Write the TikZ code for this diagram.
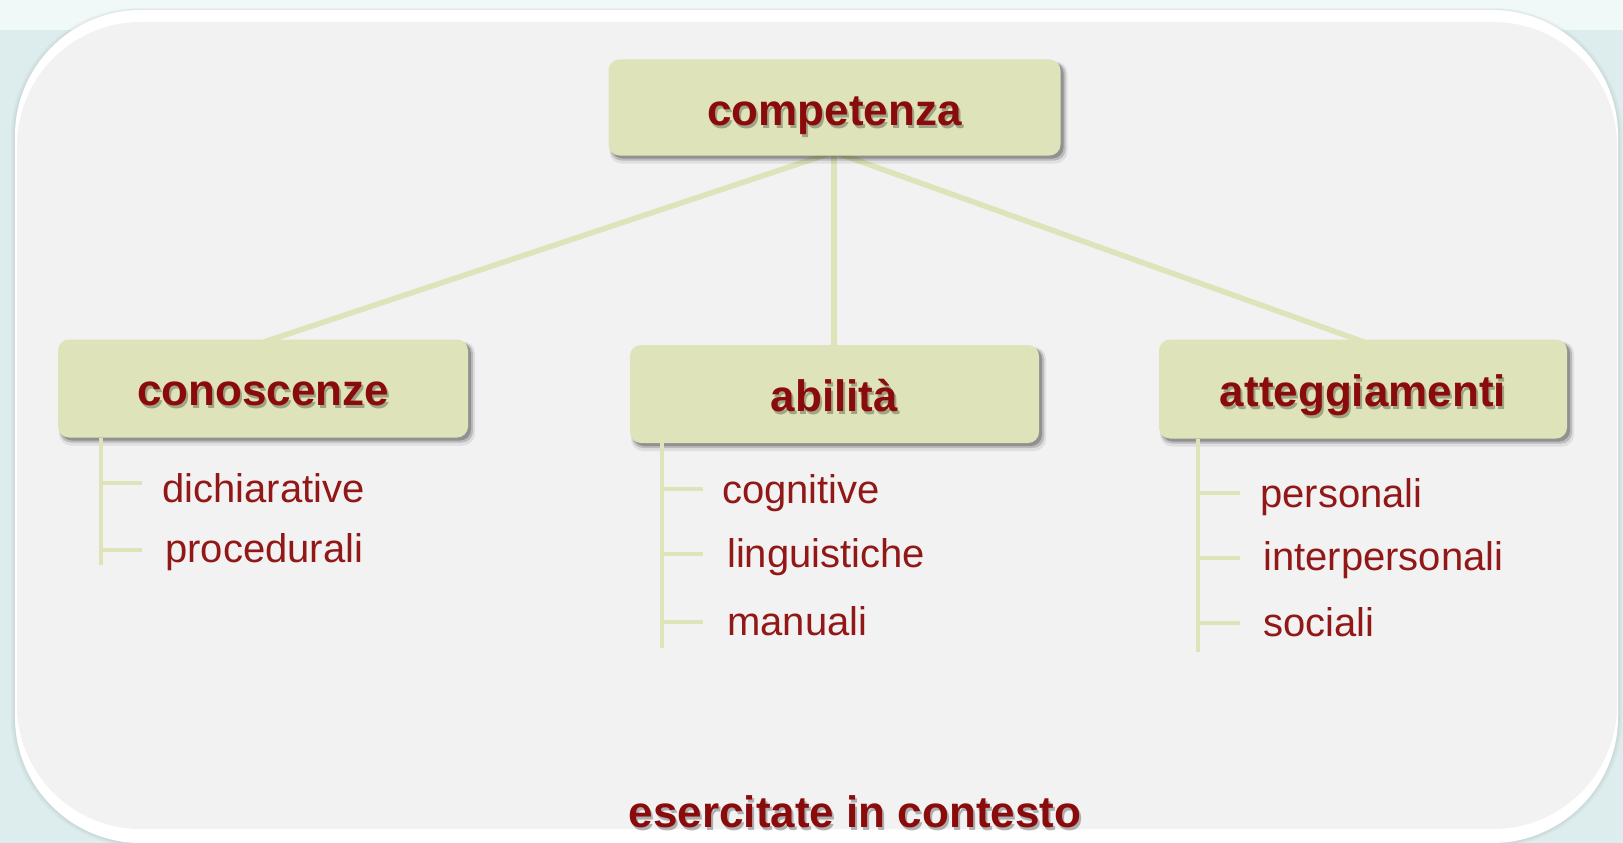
\documentclass[tikz,border=0pt]{standalone}
\usepackage{fontspec}
\setmainfont{Liberation Sans}
\definecolor{bgc}{HTML}{DDEDEE}
\definecolor{panelc}{HTML}{F2F2F2}
\definecolor{boxc}{HTML}{DFE3B9}
\definecolor{linec}{HTML}{DFE3BA}
\definecolor{txtc}{HTML}{8A0B0B}
\definecolor{subtxt}{HTML}{921818}
\newcommand\mybox[7]{%
  \fill[black,opacity=0.08,rounded corners=12pt] (#2-#4/2+1,#3-#5/2+2) rectangle (#2+#4/2+7,#3+#5/2+8);
  \fill[black,opacity=0.16,rounded corners=11pt] (#2-#4/2+2,#3-#5/2+3) rectangle (#2+#4/2+5,#3+#5/2+5);
  \fill[black,opacity=0.22,rounded corners=11pt] (#2-#4/2+3,#3-#5/2+3) rectangle (#2+#4/2+3,#3+#5/2+3);
  \node[box,minimum width=#4pt,minimum height=#5pt] (#1) at (#2,#3) {};
  \node[head,text=black,opacity=0.28] (#1s) at (#2+2,#7+3) {#6};
  \node[head] (#1t) at (#2,#7) {#6};
}
\begin{document}
\begin{tikzpicture}[x=1pt,y=-1pt,
  box/.style={fill=boxc, rounded corners=11pt, inner sep=0pt, draw=none},
  head/.style={font=\fontsize{44}{50}\selectfont\bfseries, text=txtc, inner sep=0pt},
  item/.style={font=\fontsize{40}{46}\selectfont, text=subtxt, anchor=base west, inner sep=0pt},
  conn/.style={draw=linec, line width=5.5pt},
  tree/.style={draw=linec, line width=3.5pt},
  tick/.style={draw=linec, line width=3.5pt}]
\useasboundingbox (0,0) rectangle (1623,843);
% background
\fill[bgc] (0,0) rectangle (1623,843);
\fill[white!60!bgc] (0,0) rectangle (1623,30);
% panel shadow and panel
\fill[black,opacity=0.035,rounded corners=128pt] (11,8) rectangle (1622,846);
\fill[black,opacity=0.035,rounded corners=128pt] (13,9) rectangle (1620,845);
\fill[white,rounded corners=126pt] (15,10) rectangle (1618,843);
\fill[panelc,rounded corners=124pt] (17,22) rectangle (1617,829);
% connectors (drawn first, nodes above)
\coordinate (hub) at (834,152);
\coordinate (conTop) at (264,342);
\coordinate (abiTop) at (834,347);
\coordinate (attTop) at (1364,342);
\draw[conn] (hub) -- (conTop);
\draw[conn] (hub) -- (abiTop);
\draw[conn] (hub) -- (attTop);
% boxes
\mybox{comp}{834.5}{107.5}{452}{96}{competenza}{116}
\mybox{con}{263}{388.5}{410}{98}{conoscenze}{393.5}
\mybox{abi}{834.5}{394}{409}{98}{abilità}{396}
\mybox{att}{1363}{389}{408}{99}{atteggiamenti}{395.5}
% conoscenze list
\coordinate (c0) at (101,438);
\coordinate (c9) at (101,565);
\coordinate (c1) at (101,483);
\coordinate (c2) at (101,550);
\coordinate (c1e) at (142,483);
\coordinate (c2e) at (142,550);
\draw[tree] (c0) -- (c9);
\draw[tick] (c1) -- (c1e);
\draw[tick] (c2) -- (c2e);
\node[item] (dich) at (162,502) {dichiarative};
\node[item] (proc) at (165,562) {procedurali};
% abilita list
\coordinate (a0) at (662,443);
\coordinate (a9) at (662,648);
\coordinate (a1) at (662,489);
\coordinate (a2) at (662,554);
\coordinate (a3) at (662,622);
\coordinate (a1e) at (703,489);
\coordinate (a2e) at (703,554);
\coordinate (a3e) at (703,622);
\draw[tree] (a0) -- (a9);
\draw[tick] (a1) -- (a1e);
\draw[tick] (a2) -- (a2e);
\draw[tick] (a3) -- (a3e);
\node[item] (cogn) at (722,503) {cognitive};
\node[item] (ling) at (727,567) {linguistiche};
\node[item] (manu) at (727,635) {manuali};
% atteggiamenti list
\coordinate (t0) at (1198,439);
\coordinate (t9) at (1198,652);
\coordinate (t1) at (1198,493);
\coordinate (t2) at (1198,558);
\coordinate (t3) at (1198,623);
\coordinate (t1e) at (1240,493);
\coordinate (t2e) at (1240,558);
\coordinate (t3e) at (1240,623);
\draw[tree] (t0) -- (t9);
\draw[tick] (t1) -- (t1e);
\draw[tick] (t2) -- (t2e);
\draw[tick] (t3) -- (t3e);
\node[item] (pers) at (1260,507) {personali};
\node[item] (inter) at (1263,570) {interpersonali};
\node[item] (soci) at (1263,636) {sociali};
% bottom caption
\node[head,text=black,opacity=0.28] (eserS) at (857,815) {esercitate in contesto};
\node[head] (eser) at (855,812) {esercitate in contesto};
\end{tikzpicture}
\end{document}
